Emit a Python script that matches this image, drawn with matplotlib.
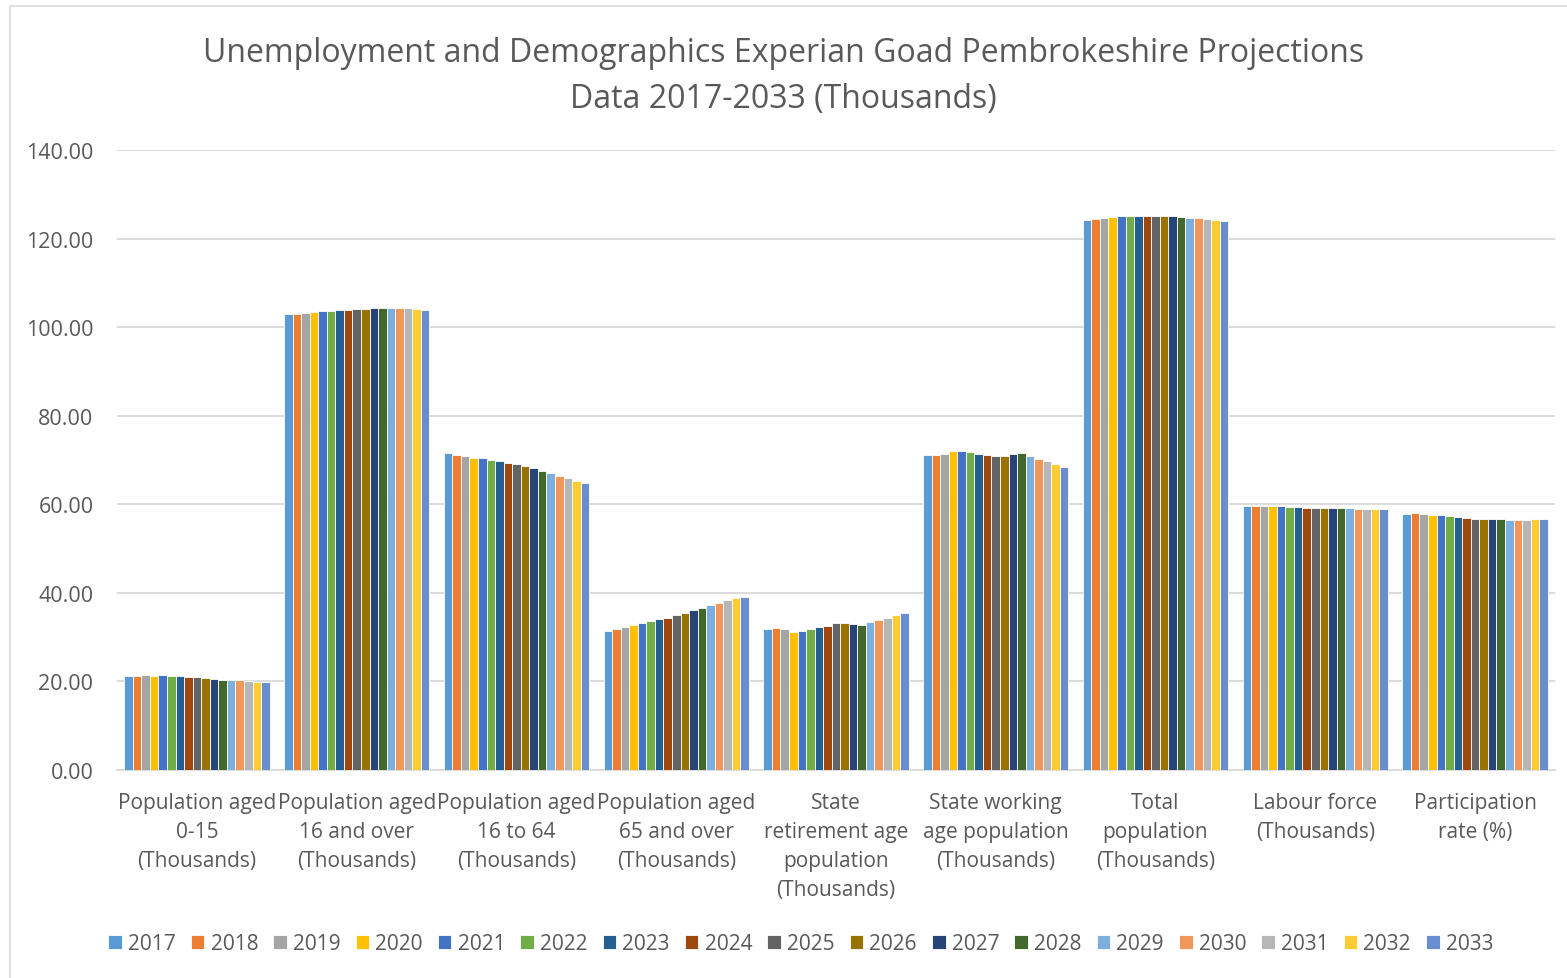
import numpy as np
import matplotlib
matplotlib.use("Agg")
import matplotlib.pyplot as plt
from matplotlib.patches import Rectangle

# ----------- Datos -----------
categorias = [
    "Population aged\n0-15\n(Thousands)",
    "Population aged\n16 and over\n(Thousands)",
    "Population aged\n16 to 64\n(Thousands)",
    "Population aged\n65 and over\n(Thousands)",
    "State\nretirement age\npopulation\n(Thousands)",
    "State working\nage population\n(Thousands)",
    "Total\npopulation\n(Thousands)",
    "Labour force\n(Thousands)",
    "Participation\nrate (%)",
]
anios = [str(a) for a in range(2017, 2034)]

pob_0_15 = [21.16, 21.23, 21.38, 21.30, 21.38, 21.23, 21.23, 21.00, 20.93, 20.85,
            20.62, 20.40, 20.40, 20.30, 20.10, 19.95, 19.87]
pob_16_mas = [102.97, 103.04, 103.27, 103.35, 103.57, 103.65, 103.80, 103.95, 104.10,
              104.17, 104.32, 104.32, 104.32, 104.25, 104.25, 104.10, 103.95]
pob_16_64 = [71.50, 71.13, 70.83, 70.52, 70.38, 70.00, 69.70, 69.32, 69.10, 68.65,
             68.13, 67.60, 67.06, 66.39, 65.86, 65.33, 64.80]
pob_65_mas = [31.32, 31.77, 32.29, 32.74, 33.20, 33.58, 34.03, 34.39, 34.93, 35.45,
              36.13, 36.65, 37.26, 37.78, 38.32, 38.77, 39.00]
pob_jubilacion = [31.77, 32.00, 31.77, 31.16, 31.39, 31.77, 32.22, 32.58, 33.19, 33.26,
                  32.97, 32.81, 33.35, 33.87, 34.39, 34.93, 35.38]
pob_edad_trabajo = [71.13, 71.13, 71.35, 72.03, 72.03, 71.73, 71.35, 71.13, 70.83, 70.83,
                    71.28, 71.50, 70.90, 70.30, 69.70, 69.10, 68.50]
pob_total = [124.19, 124.42, 124.65, 124.87, 125.02, 125.02, 125.10, 125.10, 125.10,
             125.02, 125.02, 124.87, 124.72, 124.57, 124.35, 124.12, 123.90]
fuerza_laboral = [59.55, 59.68, 59.68, 59.60, 59.55, 59.40, 59.32, 59.23, 59.10, 59.10,
                  59.23, 59.23, 59.10, 59.00, 59.00, 58.87, 58.87]
tasa_participacion = [57.80, 58.03, 57.80, 57.58, 57.50, 57.28, 57.06, 56.83, 56.75, 56.60,
                      56.60, 56.60, 56.53, 56.45, 56.53, 56.60, 56.60]

colores = ["#5B9BD5", "#ED7D31", "#A5A5A5", "#FFC000", "#4472C4", "#70AD47",
           "#255E91", "#9E480E", "#636363", "#997300", "#264478", "#43682B",
           "#7CAFDD", "#F1975A", "#B7B7B7", "#FFCD33", "#698ED0"]

# matriz categoria x anio
series = np.array([pob_0_15, pob_16_mas, pob_16_64, pob_65_mas, pob_jubilacion,
                   pob_edad_trabajo, pob_total, fuerza_laboral, tasa_participacion])

# ----------- Grafico -----------
plt.rcParams['font.family'] = ['Open Sans', 'DejaVu Sans']
texto = "#595959"

fig = plt.figure(figsize=(15.67, 9.79), dpi=100)
ax = fig.add_axes([0.0747, 0.2125, 0.9176, 0.6333])

n_cat = len(categorias)
n_ser = len(anios)
x = np.arange(n_cat)
ancho_grupo = 0.91
ancho = ancho_grupo / n_ser

for i, anio in enumerate(anios):
    pos = x - ancho_grupo / 2 + ancho * (i + 0.5)
    ax.bar(pos, series[:, i], width=ancho, color=colores[i], label=anio,
           edgecolor="white", linewidth=0.6, zorder=3)

ax.set_xlim(-0.5, n_cat - 0.5)
ax.set_ylim(0, 140)
ax.set_yticks(np.arange(0, 141, 20))
ax.set_yticklabels([f"{v:.2f}" for v in np.arange(0, 141, 20)], fontsize=15.5, color=texto)
ax.set_xticks(x)
ax.set_xticklabels(categorias, fontsize=15, color=texto, linespacing=1.5)
ax.tick_params(axis="both", length=0)
ax.tick_params(axis="y", pad=17)
ax.tick_params(axis="x", pad=16)
ax.grid(axis="y", color="#D9D9D9", linewidth=1.3, zorder=0)
for lado in ["top", "right", "left"]:
    ax.spines[lado].set_visible(False)
ax.spines["bottom"].set_color("#D9D9D9")
ax.spines["bottom"].set_linewidth(1.3)

fig.suptitle("Unemployment and Demographics Experian Goad Pembrokeshire Projections\n"
             "Data 2017-2033 (Thousands)", fontsize=23, color=texto, y=0.962,
             linespacing=1.5)

ax.legend(loc="center", bbox_to_anchor=(0.511, 0.035), bbox_transform=fig.transFigure,
          ncol=n_ser, frameon=False, fontsize=15, labelcolor=texto, handlelength=0.65,
          handleheight=0.65, handletextpad=0.3, columnspacing=0.72)

# borde del area del grafico
fig.patches.append(Rectangle((0.0064, -0.01), 1.1, 1.003, transform=fig.transFigure,
                             fill=False, edgecolor="#D9D9D9", linewidth=1.2))

fig.savefig("out.png", dpi=100)
